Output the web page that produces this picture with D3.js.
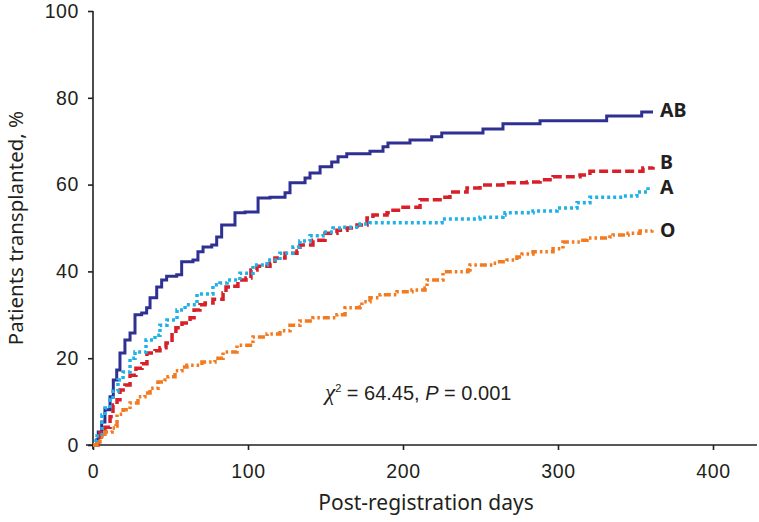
<!DOCTYPE html>
<html><head><meta charset="utf-8">
<script src="https://cdn.jsdelivr.net/npm/d3@7"></script>
<style>body{margin:0;background:#fff}svg{display:block}</style>
</head><body><div id="chart"></div>
<script>
const xTicks = [0, 100, 200, 300, 400];
const yTicks = [0, 20, 40, 60, 80, 100];
const seriesNames = ["AB", "B", "A", "O"];

const daysAB = [0,2.4,3.4,5.6,7.7,11,13.1,15.3,17.4,20.6,23.9,27.1,31.4,34.6,36.8,41.1,44.3,47.5,54,57.2,64.5,67.7,71,76.6,79.8,83,91.6,98.1,106.5,114.2,123.9,127.1,136.8,140,146.5,154,158.1,163.7,178.7,187.1,190.3,204.5,218.5,225,251.6,264.5,288.4,331.4,354,361.3];
const pctAB  = [0,1.2,3,5.3,8.1,11.1,15,17.3,21.2,24.2,25.8,30,30.4,31.6,33.9,36.4,38,38.9,39.2,42.2,42.6,44.5,45.6,46.1,47.9,50.7,53.5,53.7,56.9,57.1,58.1,60.4,61.5,62.7,64.1,65.2,66.4,67.1,67.7,68.7,69.6,70.3,71,71.9,72.8,74,74.7,75.8,76.7,76.7];

const daysB = [0,3.2,4.5,7.7,11,12.9,15.5,17.4,20.6,23.9,27.7,31.6,34.8,40,43.2,47.1,51,53.5,57.4,62.6,65.2,69,72.3,77.4,83.9,85.8,90.3,93.5,98.7,101.9,105.8,114.2,117.4,123.9,131.6,133.5,141.9,149.7,157.4,163.9,170.3,176.8,180.6,189.7,191.6,200,211,225.8,230.3,241.3,249.7,264.5,280,288.4,296.8,314.2,320.6,348.4,354.8,361.3];
const pctB  = [0,0.7,2.8,4.1,6.5,9.2,10.4,12.7,13.8,16.1,17.7,18.7,21.2,21.7,22.4,23.5,25.8,27,28.1,29.3,31.1,32.3,32.7,33.6,35,36.4,36.6,38,38.5,40.3,41.2,41.9,43.1,44.2,44.7,46.1,47.2,48.8,49.5,50,50.7,52.3,53,53.5,54.1,54.8,56.5,57.1,58.3,59.2,59.9,60.4,60.6,61.1,61.8,62.2,63.1,63.1,63.8,64.1];

const daysA = [0,1.9,2.6,5.8,7.7,11,12.9,16.1,19.4,23.9,27.1,34.2,40,43.2,47.7,54.2,59.4,67.1,77.4,81.9,86.5,94.8,103.2,112.3,120.6,129,133.5,140,148.4,154.8,161.3,172.3,178.7,225.2,249.7,264.5,265.8,283.9,299.4,312.3,320.6,341.9,350.9,358.1];
const pctA  = [0,0.9,2.1,6.9,8.5,10.4,12.4,15,16.8,20,21.4,24.2,25.3,27.6,28.8,31.1,32.3,34.8,36.9,37.3,38,39.6,41.5,42.6,44.2,45.6,47,48.2,49.1,50,50.2,50.9,51.2,52.1,52.5,53,53.5,53.9,54.6,55.8,57.1,57.4,58.3,59.4];

const daysO = [0,2.6,4.5,7.7,12.3,14.8,15.5,19.4,23.9,29,33.5,36.8,41.9,46.5,48.4,52.9,57.4,60.6,70.3,78.7,83.9,92.9,103.2,112.3,120.6,127.1,133.5,141.9,152.9,157.4,162.6,172.3,173.5,178.7,185.2,196.1,205.8,214.2,215.5,225.8,241.9,243.2,258.1,260.6,267.1,273.5,276.8,283.9,296.8,303.2,314.2,318.7,333.5,335.5,345.2,352.9,360.6];
const pctO  = [0,0.7,1.8,3,3.9,4.4,7.1,8.1,9.7,11.1,12,13.1,14.5,15,15.7,17.1,18,18.4,19.1,20,21.4,23,24.9,25.6,26.3,27.6,28.6,29.3,29.3,30,31.6,31.8,33,33.9,34.6,35.3,35.7,36.2,38,39.9,40.3,41.5,41.9,42.2,42.6,43.3,44,44.5,45.2,46.8,47.2,47.7,47.9,48.4,48.8,49.3,49.5];

const W = 759, H = 522;
const svg = d3.select("#chart").append("svg").attr("width", W).attr("height", H);
const x = d3.scaleLinear().domain([0, 400]).range([93, 713]);
const y = d3.scaleLinear().domain([0, 100]).range([445, 11]);
const ink = "#231f20";

const series = [
  {name: "AB", days: daysAB, pct: pctAB, color: "#2e3192", dash: null, width: 3},
  {name: "B",  days: daysB,  pct: pctB,  color: "#d7202a", dash: "9,4", width: 3.5},
  {name: "A",  days: daysA,  pct: pctA,  color: "#1fb1ea", dash: "3,3", width: 3.5},
  {name: "O",  days: daysO,  pct: pctO,  color: "#f47a20", dash: "7,3,2.5,3,2.5,3", width: 3.5}
];
const labelPos = {AB: 116.5, B: 169, A: 194, O: 237};

// axes
const yAxis = d3.axisLeft(y).tickValues(yTicks).tickSize(5).tickPadding(9);
const gy = svg.append("g").attr("transform", `translate(${x(0)},0)`).call(yAxis);
gy.select(".domain").attr("d", `M0,${y(100)}V${y(0)+4}`);
const xAxis = d3.axisBottom(x).tickValues(xTicks).tickSize(5).tickPadding(14);
const gx = svg.append("g").attr("transform", `translate(0,${y(0)})`).call(xAxis);
gx.select(".domain").attr("d", `M${x(0)-7},0H757`);
[gx, gy].forEach(g => {
  g.selectAll(".domain,line").attr("stroke", ink).attr("stroke-width", 1.6);
  g.selectAll("text").attr("fill", ink).style("font-family", "'Liberation Sans', Arial, sans-serif")
    .style("font-size", "19.5px").style("letter-spacing", "0.6px");
});

// curves
const line = d3.line().curve(d3.curveStepAfter).x(d => x(d[0])).y(d => y(d[1]));
series.forEach(s => {
  const pts = s.days.map((d, i) => [d, s.pct[i]]);
  svg.append("path").attr("d", line(pts)).attr("fill", "none")
    .attr("stroke", s.color).attr("stroke-width", s.width)
    .attr("stroke-dasharray", s.dash).attr("stroke-linejoin", "miter");
  svg.append("text").attr("x", 660).attr("y", labelPos[s.name]).text(s.name)
    .attr("fill", ink).style("font-family", "'Noto Sans', sans-serif")
    .style("font-weight", "bold").style("font-size", "19.5px");
});

// titles
svg.append("text").attr("x", 426).attr("y", 510).attr("text-anchor", "middle")
  .text("Post-registration days").attr("fill", ink)
  .style("font-family", "'Noto Sans', sans-serif").style("font-size", "21px");
svg.append("text").attr("transform", "translate(23,228) rotate(-90)").attr("text-anchor", "middle")
  .text("Patients transplanted, %").attr("fill", ink)
  .style("font-family", "'Noto Sans', sans-serif").style("font-size", "20.5px");

// annotation
const ann = svg.append("text").attr("x", 325).attr("y", 400).attr("fill", ink)
  .style("font-family", "'Liberation Sans', Arial, sans-serif").style("font-size", "20px");
ann.append("tspan").text("χ").style("font-family", "'Liberation Serif', serif").style("font-style", "italic").style("font-size", "23px");
ann.append("tspan").text("2").attr("dy", -8).style("font-size", "11px");
ann.append("tspan").text(" = 64.45, ").attr("dy", 8);
ann.append("tspan").text("P").style("font-style", "italic");
ann.append("tspan").text(" = 0.001");
</script></body></html>
